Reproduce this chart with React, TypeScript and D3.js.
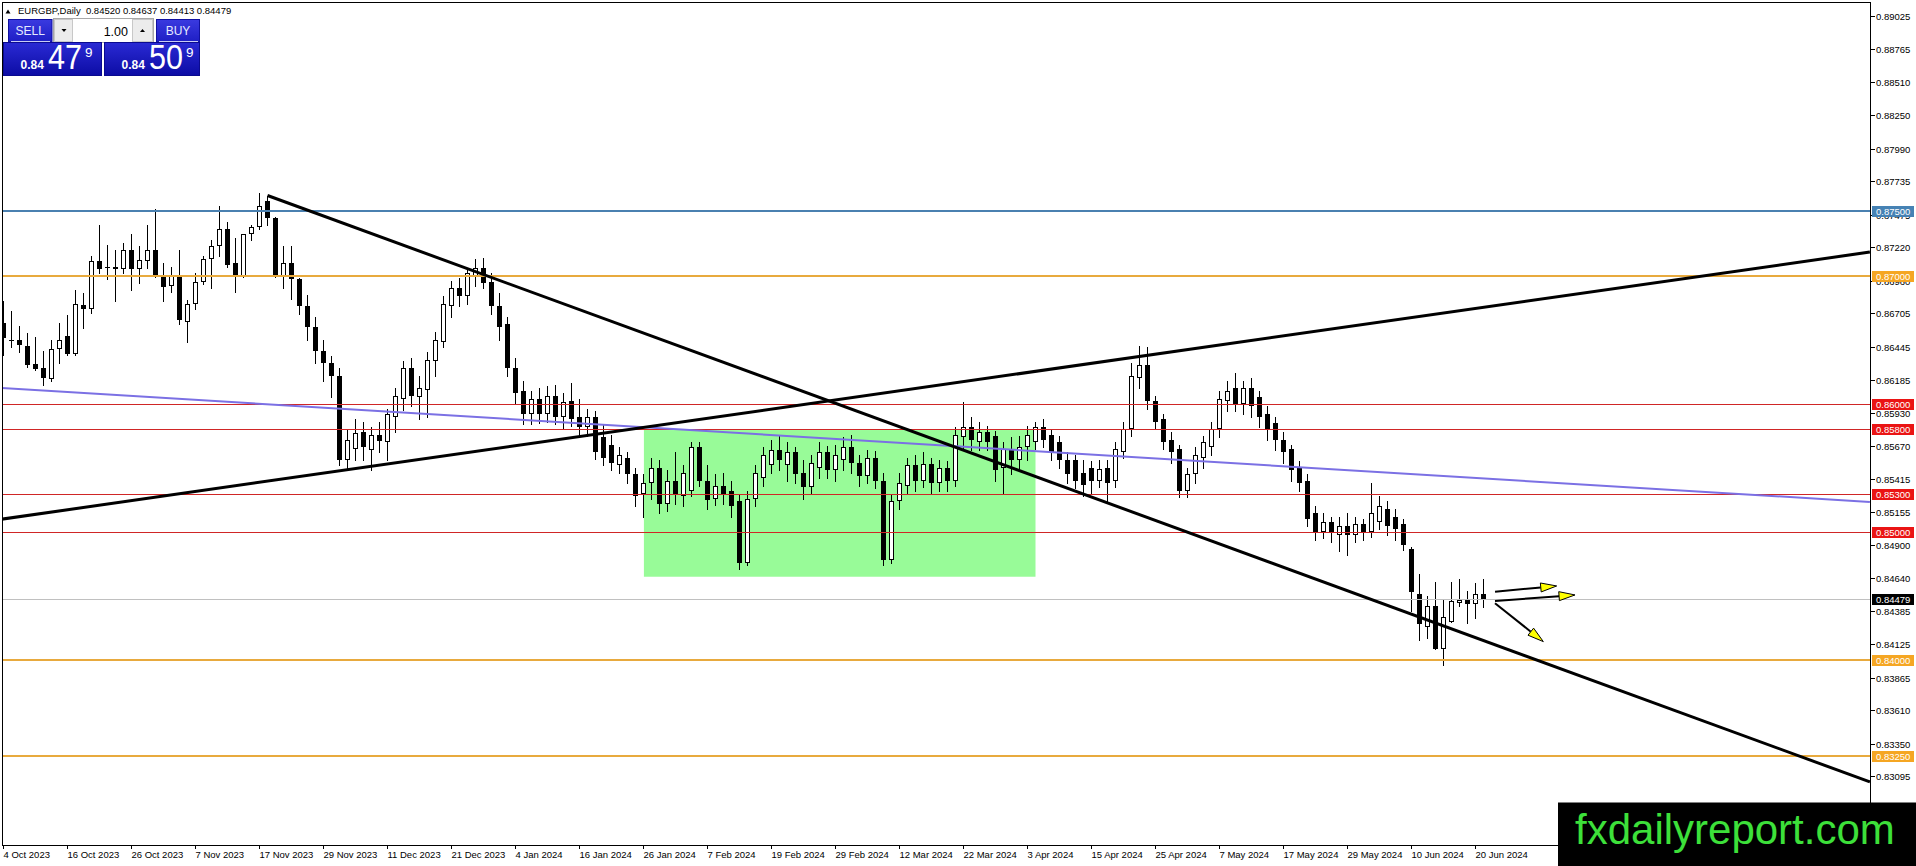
import React, { useRef, useEffect } from 'react';
import * as d3 from 'd3';

// open, high, low, close
type Bar = [number, number, number, number];

const oct2023: Bar[] = [
    [0.8663, 0.8680, 0.8638, 0.8651], [0.8650, 0.8672, 0.8644, 0.8649], [0.8650, 0.8661, 0.8640, 0.8646],
    [0.8645, 0.8655, 0.8629, 0.8630], [0.8631, 0.8652, 0.8626, 0.8627], [0.8628, 0.8641, 0.8615, 0.8620],
    [0.8619, 0.8650, 0.8618, 0.8643], [0.8643, 0.8663, 0.8632, 0.8650], [0.8653, 0.8669, 0.8638, 0.8639],
    [0.8639, 0.8689, 0.8638, 0.8678], [0.8677, 0.8686, 0.8659, 0.8674], [0.8674, 0.8715, 0.8671, 0.8711],
    [0.8711, 0.8739, 0.8702, 0.8705], [0.8707, 0.8724, 0.8697, 0.8706], [0.8707, 0.8720, 0.8680, 0.8705],
    [0.8705, 0.8725, 0.8702, 0.8720], [0.8720, 0.8732, 0.8689, 0.8705], [0.8705, 0.8723, 0.8694, 0.8712],
    [0.8711, 0.8739, 0.8706, 0.8720], [0.8720, 0.8752, 0.8699, 0.8700],
];
const nov2023: Bar[] = [
    [0.8700, 0.8710, 0.8680, 0.8691], [0.8692, 0.8707, 0.8687, 0.8700], [0.8700, 0.8720, 0.8662, 0.8665],
    [0.8664, 0.8681, 0.8648, 0.8678], [0.8678, 0.8702, 0.8674, 0.8695], [0.8695, 0.8715, 0.8693, 0.8713],
    [0.8713, 0.8728, 0.8690, 0.8723], [0.8723, 0.8754, 0.8715, 0.8736], [0.8736, 0.8742, 0.8707, 0.8708],
    [0.8710, 0.8729, 0.8687, 0.8700], [0.8699, 0.8732, 0.8699, 0.8732], [0.8732, 0.8739, 0.8728, 0.8738],
    [0.8738, 0.8764, 0.8736, 0.8754], [0.8758, 0.8762, 0.8739, 0.8745], [0.8745, 0.8746, 0.8699, 0.8699],
    [0.8699, 0.8723, 0.8690, 0.8710], [0.8710, 0.8723, 0.8682, 0.8697], [0.8697, 0.8698, 0.8670, 0.8676],
    [0.8676, 0.8685, 0.8650, 0.8660], [0.8660, 0.8668, 0.8632, 0.8641], [0.8641, 0.8650, 0.8618, 0.8632],
    [0.8632, 0.8637, 0.8605, 0.8622],
];
const dec2023: Bar[] = [
    [0.8622, 0.8628, 0.8552, 0.8556], [0.8556, 0.8580, 0.8550, 0.8572], [0.8565, 0.8588, 0.8556, 0.8577],
    [0.8578, 0.8586, 0.8556, 0.8566], [0.8564, 0.8582, 0.8548, 0.8576], [0.8576, 0.8586, 0.8562, 0.8571],
    [0.8570, 0.8596, 0.8556, 0.8592], [0.8590, 0.8612, 0.8578, 0.8606], [0.8604, 0.8633, 0.8595, 0.8628],
    [0.8628, 0.8636, 0.8598, 0.8606], [0.8605, 0.8622, 0.8588, 0.8612], [0.8611, 0.8640, 0.8590, 0.8634],
    [0.8633, 0.8656, 0.8622, 0.8650], [0.8648, 0.8684, 0.8644, 0.8678], [0.8676, 0.8696, 0.8668, 0.8690],
    [0.8690, 0.8698, 0.8676, 0.8684], [0.8684, 0.8706, 0.8678, 0.8702], [0.8700, 0.8713, 0.8692, 0.8706],
    [0.8706, 0.8714, 0.8690, 0.8694], [0.8695, 0.8702, 0.8670, 0.8676],
];
const jan2024: Bar[] = [
    [0.8676, 0.8686, 0.8650, 0.8660], [0.8662, 0.8668, 0.8622, 0.8628], [0.8628, 0.8636, 0.8600, 0.8608],
    [0.8610, 0.8618, 0.8584, 0.8592], [0.8592, 0.8610, 0.8584, 0.8604], [0.8604, 0.8612, 0.8585, 0.8592],
    [0.8592, 0.8614, 0.8586, 0.8606], [0.8606, 0.8615, 0.8584, 0.8590], [0.8590, 0.8608, 0.8580, 0.8601],
    [0.8602, 0.8616, 0.8583, 0.8588], [0.8590, 0.8604, 0.8576, 0.8582], [0.8582, 0.8596, 0.8575, 0.8590],
    [0.8590, 0.8594, 0.8557, 0.8562], [0.8574, 0.8584, 0.8552, 0.8558], [0.8568, 0.8576, 0.8548, 0.8554],
    [0.8552, 0.8566, 0.8546, 0.8560], [0.8558, 0.8562, 0.8538, 0.8545], [0.8545, 0.8550, 0.8520, 0.8528],
    [0.8530, 0.8545, 0.8512, 0.8538], [0.8538, 0.8558, 0.8526, 0.8550], [0.8550, 0.8556, 0.8515, 0.8522],
    [0.8522, 0.8548, 0.8516, 0.8540],
];
const feb2024: Bar[] = [
    [0.8540, 0.8562, 0.8522, 0.8530], [0.8528, 0.8552, 0.8520, 0.8546], [0.8532, 0.8570, 0.8528, 0.8566],
    [0.8566, 0.8570, 0.8536, 0.8540], [0.8540, 0.8552, 0.8518, 0.8525], [0.8526, 0.8545, 0.8521, 0.8536],
    [0.8536, 0.8546, 0.8522, 0.8530], [0.8532, 0.8540, 0.8512, 0.8520], [0.8524, 0.8530, 0.8471, 0.8476],
    [0.8476, 0.8532, 0.8474, 0.8526], [0.8526, 0.8552, 0.8520, 0.8546], [0.8542, 0.8566, 0.8536, 0.8560],
    [0.8552, 0.8572, 0.8546, 0.8564], [0.8564, 0.8576, 0.8548, 0.8556], [0.8552, 0.8570, 0.8540, 0.8562],
    [0.8562, 0.8566, 0.8538, 0.8545], [0.8546, 0.8556, 0.8526, 0.8535], [0.8535, 0.8560, 0.8530, 0.8554],
    [0.8550, 0.8570, 0.8542, 0.8562], [0.8562, 0.8567, 0.8542, 0.8548], [0.8548, 0.8568, 0.8540, 0.8560],
];
const mar2024: Bar[] = [
    [0.8556, 0.8574, 0.8548, 0.8566], [0.8566, 0.8576, 0.8546, 0.8554], [0.8554, 0.8560, 0.8536, 0.8544],
    [0.8544, 0.8564, 0.8538, 0.8558], [0.8558, 0.8563, 0.8534, 0.8540], [0.8540, 0.8546, 0.8474, 0.8478],
    [0.8478, 0.8530, 0.8476, 0.8524], [0.8524, 0.8546, 0.8518, 0.8538], [0.8536, 0.8558, 0.8530, 0.8552],
    [0.8552, 0.8560, 0.8532, 0.8540], [0.8540, 0.8562, 0.8535, 0.8553], [0.8553, 0.8558, 0.8530, 0.8538],
    [0.8538, 0.8556, 0.8532, 0.8550], [0.8550, 0.8555, 0.8532, 0.8540], [0.8540, 0.8582, 0.8536, 0.8576],
    [0.8574, 0.8601, 0.8565, 0.8582], [0.8582, 0.8590, 0.8564, 0.8572], [0.8570, 0.8586, 0.8564, 0.8578],
    [0.8578, 0.8583, 0.8564, 0.8570], [0.8575, 0.8579, 0.8540, 0.8548], [0.8550, 0.8570, 0.8530, 0.8565],
];
const apr2024: Bar[] = [
    [0.8565, 0.8574, 0.8545, 0.8556], [0.8556, 0.8575, 0.8550, 0.8566], [0.8566, 0.8583, 0.8556, 0.8576],
    [0.8570, 0.8586, 0.8565, 0.8582], [0.8582, 0.8588, 0.8566, 0.8572], [0.8576, 0.8580, 0.8556, 0.8562],
    [0.8570, 0.8575, 0.8550, 0.8556], [0.8556, 0.8562, 0.8538, 0.8545], [0.8556, 0.8560, 0.8534, 0.8540],
    [0.8546, 0.8556, 0.8528, 0.8537], [0.8550, 0.8555, 0.8530, 0.8540], [0.8540, 0.8556, 0.8535, 0.8549],
    [0.8550, 0.8556, 0.8524, 0.8538], [0.8540, 0.8570, 0.8535, 0.8565], [0.8562, 0.8586, 0.8558, 0.8580],
    [0.8580, 0.8632, 0.8575, 0.8622], [0.8620, 0.8645, 0.8612, 0.8630], [0.8630, 0.8644, 0.8596, 0.8602],
    [0.8602, 0.8606, 0.8580, 0.8586], [0.8588, 0.8592, 0.8565, 0.8570], [0.8572, 0.8578, 0.8554, 0.8562],
    [0.8565, 0.8568, 0.8527, 0.8532],
];
const may2024: Bar[] = [
    [0.8532, 0.8550, 0.8527, 0.8545], [0.8545, 0.8566, 0.8538, 0.8560], [0.8558, 0.8575, 0.8550, 0.8570],
    [0.8566, 0.8586, 0.8560, 0.8580], [0.8580, 0.8610, 0.8574, 0.8604], [0.8602, 0.8618, 0.8594, 0.8610],
    [0.8612, 0.8624, 0.8594, 0.8600], [0.8600, 0.8618, 0.8592, 0.8612], [0.8612, 0.8620, 0.8590, 0.8598],
    [0.8605, 0.8610, 0.8582, 0.8590], [0.8592, 0.8598, 0.8572, 0.8580], [0.8585, 0.8590, 0.8564, 0.8572],
    [0.8572, 0.8578, 0.8554, 0.8562], [0.8565, 0.8568, 0.8540, 0.8548], [0.8550, 0.8555, 0.8532, 0.8538],
    [0.8540, 0.8545, 0.8505, 0.8510], [0.8515, 0.8520, 0.8494, 0.8500], [0.8500, 0.8515, 0.8495, 0.8508],
    [0.8508, 0.8512, 0.8492, 0.8500], [0.8498, 0.8512, 0.8485, 0.8505], [0.8505, 0.8515, 0.8482, 0.8498],
    [0.8498, 0.8512, 0.8492, 0.8506], [0.8506, 0.8510, 0.8494, 0.8500],
];
const jun2024: Bar[] = [
    [0.8500, 0.8538, 0.8496, 0.8515], [0.8508, 0.8528, 0.8502, 0.8520], [0.8518, 0.8524, 0.8498, 0.8505],
    [0.8512, 0.8518, 0.8494, 0.8502], [0.8506, 0.8510, 0.8486, 0.8490], [0.8487, 0.8488, 0.8438, 0.8453],
    [0.8452, 0.8467, 0.8416, 0.8428], [0.8426, 0.8450, 0.8417, 0.8442], [0.8442, 0.8461, 0.8409, 0.8409],
    [0.8409, 0.8448, 0.8396, 0.8434], [0.8430, 0.8461, 0.8430, 0.8446], [0.8445, 0.8463, 0.8442, 0.8447],
    [0.8448, 0.8454, 0.8429, 0.8444], [0.8444, 0.8460, 0.8433, 0.8452], [0.84520, 0.84637, 0.84413, 0.84479],
];

const bars: Bar[] = [
    ...oct2023, ...nov2023, ...dec2023, ...jan2024, ...feb2024,
    ...mar2024, ...apr2024, ...may2024, ...jun2024,
];

const dateLabels = [
    '4 Oct 2023', '16 Oct 2023', '26 Oct 2023', '7 Nov 2023', '17 Nov 2023', '29 Nov 2023',
    '11 Dec 2023', '21 Dec 2023', '4 Jan 2024', '16 Jan 2024', '26 Jan 2024', '7 Feb 2024',
    '19 Feb 2024', '29 Feb 2024', '12 Mar 2024', '22 Mar 2024', '3 Apr 2024', '15 Apr 2024',
    '25 Apr 2024', '7 May 2024', '17 May 2024', '29 May 2024', '10 Jun 2024', '20 Jun 2024',
];
const barsPerLabel = 8;

const priceTicks = [
    0.89025, 0.88765, 0.8851, 0.8825, 0.8799, 0.87735, 0.87475, 0.8722, 0.8696, 0.86705, 0.86445, 0.86185,
    0.8593, 0.8567, 0.85415, 0.85155, 0.849, 0.8464, 0.84385, 0.84125, 0.83865, 0.8361, 0.8335, 0.83095,
];

const levelPrices = [0.875, 0.87, 0.86, 0.858, 0.853, 0.85, 0.84, 0.8325];
const levelKinds = ['blue', 'orange', 'red', 'red', 'red', 'red', 'orange', 'orange'];
const bidPrice = 0.84479;

const symbol = 'EURGBP,Daily';
const lastOhlc = [0.8452, 0.84637, 0.84413, 0.84479];

// drawn objects: [bar index, price]
const downTrend: [number, number][] = [[33, 0.87624], [233.3, 0.83051]];
const upTrend: [number, number][] = [[-0.44, 0.85098], [233.3, 0.87183]];
const midLine: [number, number][] = [[-0.44, 0.86123], [233.3, 0.85234]];
const boxBars = [80.05, 129];
const boxPrices = [0.85795, 0.84651];
const arrowLines: [number, number, number, number][] = [
    [186.44, 0.84534, 194.15, 0.84579],
    [186.44, 0.84462, 196.44, 0.84509],
    [186.44, 0.84444, 192.48, 0.84145],
];

const sellQuote = ['0.84', '47', '9'];
const buyQuote = ['0.84', '50', '9'];
const lotSize = '1.00';
const watermark = 'fxdailyreport.com';

const levelStyle: Record<string, { stroke: string; width: number; box: string }> = {
    blue: { stroke: '#4a80b0', width: 2, box: '#4682b4' },
    orange: { stroke: '#e8aa3e', width: 2, box: '#f5a623' },
    red: { stroke: '#d02626', width: 1, box: '#ea1414' },
};

const FONT = '"Liberation Sans", Arial, sans-serif';

const MtChart: React.FC = () => {
    const svgRef = useRef<SVGSVGElement | null>(null);
    const width = 1916;
    const height = 866;
    const plot = { left: 2.5, top: 2.5, right: 1870.5, bottom: 845 };

    useEffect(() => {
        if (!svgRef.current) return;
        const svg = d3.select(svgRef.current);
        svg.selectAll('*').remove();

        const x = d3.scaleLinear().domain([0, bars.length - 1]).range([3.5, 3.5 + 8 * (bars.length - 1)]);
        const y = d3.scaleLinear().domain([0.82559, 0.89129]).range([plot.bottom, plot.top]);

        const defs = svg.append('defs');
        defs.append('clipPath').attr('id', 'plotClip')
            .append('rect')
            .attr('x', plot.left).attr('y', plot.top)
            .attr('width', plot.right - plot.left).attr('height', plot.bottom - plot.top);
        const btnGrad = defs.append('linearGradient').attr('id', 'btnGrad').attr('x1', 0).attr('y1', 0).attr('x2', 0).attr('y2', 1);
        btnGrad.append('stop').attr('offset', '0%').attr('stop-color', '#3a3ae0');
        btnGrad.append('stop').attr('offset', '100%').attr('stop-color', '#1e1ec4');
        const quoteGrad = defs.append('linearGradient').attr('id', 'quoteGrad').attr('x1', 0).attr('y1', 0).attr('x2', 0).attr('y2', 1);
        quoteGrad.append('stop').attr('offset', '0%').attr('stop-color', '#2a2ad4');
        quoteGrad.append('stop').attr('offset', '100%').attr('stop-color', '#0c0ca4');

        svg.append('rect').attr('width', width).attr('height', height).attr('fill', '#ffffff');

        const chart = svg.append('g').attr('clip-path', 'url(#plotClip)');

        // range box in the background
        chart.append('rect')
            .attr('x', x(boxBars[0])).attr('y', y(boxPrices[0]))
            .attr('width', x(boxBars[1]) - x(boxBars[0]))
            .attr('height', y(boxPrices[1]) - y(boxPrices[0]))
            .attr('fill', '#98fb98');

        // candles
        const candles = chart.append('g').attr('shape-rendering', 'crispEdges');
        bars.forEach(([o, h, l, c], i) => {
            const cx = x(i);
            candles.append('line')
                .attr('x1', cx).attr('x2', cx)
                .attr('y1', Math.round(y(h))).attr('y2', Math.round(y(l)) + 1)
                .attr('stroke', '#000');
            const top = Math.round(y(Math.max(o, c)));
            const bot = Math.round(y(Math.min(o, c)));
            const hgt = Math.max(1, bot - top);
            if (c < o) {
                candles.append('rect')
                    .attr('x', cx - 2.5).attr('y', top).attr('width', 5).attr('height', hgt)
                    .attr('fill', '#000');
            } else {
                candles.append('rect')
                    .attr('x', cx - 2).attr('y', top + 0.5).attr('width', 4).attr('height', Math.max(0, hgt - 1))
                    .attr('fill', '#fff').attr('stroke', '#000');
            }
        });

        // horizontal levels
        levelPrices.forEach((p, i) => {
            const st = levelStyle[levelKinds[i]];
            const yy = Math.round(y(p)) + (st.width % 2 ? 0.5 : 0);
            chart.append('line')
                .attr('x1', plot.left).attr('x2', plot.right).attr('y1', yy).attr('y2', yy)
                .attr('stroke', st.stroke).attr('stroke-width', st.width)
                .attr('shape-rendering', 'crispEdges');
        });
        const bidY = Math.round(y(bidPrice)) + 0.5;
        chart.append('line')
            .attr('x1', plot.left).attr('x2', plot.right).attr('y1', bidY).attr('y2', bidY)
            .attr('stroke', '#c0c0c0').attr('shape-rendering', 'crispEdges');

        const line = d3.line<[number, number]>()
            .x(d => x(d[0]))
            .y(d => y(d[1]));

        chart.append('path').datum(midLine)
            .attr('fill', 'none').attr('stroke', '#7b70e4').attr('stroke-width', 2).attr('d', line);
        [downTrend, upTrend].forEach(t => {
            chart.append('path').datum(t)
                .attr('fill', 'none').attr('stroke', '#000').attr('stroke-width', 3).attr('d', line);
        });

        // arrows
        arrowLines.forEach(([i0, p0, i1, p1]) => {
            const x0 = x(i0), y0 = y(p0), x1 = x(i1), y1 = y(p1);
            const ang = Math.atan2(y1 - y0, x1 - x0);
            const len = 16, half = 4.5;
            const bx = x1 - len * Math.cos(ang);
            const by = y1 - len * Math.sin(ang);
            chart.append('line')
                .attr('x1', x0).attr('y1', y0).attr('x2', bx).attr('y2', by)
                .attr('stroke', '#000').attr('stroke-width', 2);
            const pts: [number, number][] = [
                [x1, y1],
                [bx + half * Math.sin(ang), by - half * Math.cos(ang)],
                [bx - half * Math.sin(ang), by + half * Math.cos(ang)],
            ];
            chart.append('polygon')
                .attr('points', pts.map(p => p.join(',')).join(' '))
                .attr('fill', '#ffff00').attr('stroke', '#000').attr('stroke-width', 1);
        });

        // frame
        svg.append('rect')
            .attr('x', plot.left).attr('y', plot.top)
            .attr('width', plot.right - plot.left).attr('height', plot.bottom - plot.top)
            .attr('fill', 'none').attr('stroke', '#000').attr('shape-rendering', 'crispEdges');

        // price axis
        const yAxis = svg.append('g').attr('font-family', FONT).attr('font-size', 9.5);
        priceTicks.forEach(p => {
            const yy = Math.round(y(p)) + 0.5;
            yAxis.append('line')
                .attr('x1', plot.right).attr('x2', plot.right + 4).attr('y1', yy).attr('y2', yy)
                .attr('stroke', '#000').attr('shape-rendering', 'crispEdges');
            yAxis.append('text')
                .attr('x', plot.right + 5.5).attr('y', yy)
                .attr('dominant-baseline', 'central')
                .attr('fill', '#000')
                .text(d3.format('.5f')(p));
        });
        const priceBox = (p: number, fill: string) => {
            const yy = Math.round(y(p)) + 0.5;
            yAxis.append('rect')
                .attr('x', plot.right + 1).attr('y', yy - 5.5).attr('width', 42).attr('height', 11)
                .attr('fill', fill).attr('shape-rendering', 'crispEdges');
            yAxis.append('text')
                .attr('x', plot.right + 5.5).attr('y', yy)
                .attr('dominant-baseline', 'central')
                .attr('fill', '#fff')
                .text(d3.format('.5f')(p));
        };
        levelPrices.forEach((p, i) => priceBox(p, levelStyle[levelKinds[i]].box));
        priceBox(bidPrice, '#000');

        // time axis
        const xAxis = svg.append('g').attr('font-family', FONT).attr('font-size', 9.5);
        dateLabels.forEach((lab, k) => {
            const xx = x(k * barsPerLabel);
            xAxis.append('line')
                .attr('x1', xx).attr('x2', xx).attr('y1', plot.bottom).attr('y2', plot.bottom + 4)
                .attr('stroke', '#000').attr('shape-rendering', 'crispEdges');
            xAxis.append('text')
                .attr('x', xx).attr('y', 858)
                .attr('fill', '#000')
                .text(lab);
        });

        // header
        const head = svg.append('g').attr('font-family', FONT).attr('font-size', 9.5);
        head.append('polygon').attr('points', '5.5,13.5 10.5,13.5 8,9.5').attr('fill', '#000');
        head.append('text')
            .attr('x', 18).attr('y', 14)
            .attr('fill', '#000')
            .style('white-space', 'pre')
            .text(`${symbol}  ${lastOhlc.map(v => d3.format('.5f')(v)).join(' ')}`);

        // one click trading panel
        const panel = svg.append('g').attr('font-family', FONT);
        const button = (bx: number, bw: number, label: string) => {
            panel.append('rect').attr('x', bx).attr('y', 19.5).attr('width', bw).attr('height', 22.5)
                .attr('fill', 'url(#btnGrad)').attr('stroke', '#1010a0');
            panel.append('line').attr('x1', bx + 2).attr('x2', bx + bw - 2).attr('y1', 41.5).attr('y2', 41.5)
                .attr('stroke', '#c8ccf4').attr('shape-rendering', 'crispEdges');
            panel.append('text').attr('x', bx + bw / 2).attr('y', 35).attr('text-anchor', 'middle')
                .attr('font-size', 12).attr('fill', '#e6eaff').text(label);
        };
        button(8.5, 43.5, 'SELL');
        button(156.5, 43, 'BUY');

        panel.append('rect').attr('x', 53.5).attr('y', 18.5).attr('width', 100).attr('height', 24)
            .attr('fill', '#fff').attr('stroke', '#a8a8a8').attr('shape-rendering', 'crispEdges');
        panel.append('rect').attr('x', 54.5).attr('y', 19.5).attr('width', 18).attr('height', 22)
            .attr('fill', '#ececec').attr('stroke', '#c8c8c8').attr('shape-rendering', 'crispEdges');
        panel.append('rect').attr('x', 132.5).attr('y', 19.5).attr('width', 20).attr('height', 22)
            .attr('fill', '#ececec').attr('stroke', '#c8c8c8').attr('shape-rendering', 'crispEdges');
        panel.append('polygon').attr('points', '61.5,29 66.5,29 64,32').attr('fill', '#000');
        panel.append('polygon').attr('points', '140,32 145,32 142.5,29').attr('fill', '#000');
        panel.append('text').attr('x', 128).attr('y', 35.5).attr('text-anchor', 'end')
            .attr('font-size', 12.5).attr('fill', '#000').text(lotSize);

        const quote = (bx: number, bw: number, q: string[]) => {
            panel.append('rect').attr('x', bx).attr('y', 42.5).attr('width', bw).attr('height', 33)
                .attr('fill', 'url(#quoteGrad)').attr('stroke', '#0a0a90');
            panel.append('text').attr('x', bx + 17).attr('y', 68.5)
                .attr('font-size', 12).attr('font-weight', 'bold').attr('fill', '#fff').text(q[0]);
            panel.append('text').attr('x', bx + 44.5).attr('y', 68.5)
                .attr('font-size', 35).attr('textLength', 34).attr('lengthAdjust', 'spacingAndGlyphs')
                .attr('fill', '#fff').text(q[1]);
            panel.append('text').attr('x', bx + 81.5).attr('y', 56.5)
                .attr('font-size', 13.5).attr('fill', '#fff').text(q[2]);
        };
        quote(3.5, 98, sellQuote);
        quote(104.5, 95, buyQuote);

        // watermark
        svg.append('rect').attr('x', 1558).attr('y', 802.5).attr('width', width - 1558).attr('height', height - 802.5)
            .attr('fill', '#000');
        svg.append('text').attr('x', 1575).attr('y', 844)
            .attr('font-family', FONT).attr('font-size', 42).attr('fill', '#3de03a')
            .text(watermark);
    }, []);

    return (
        <svg
            ref={svgRef}
            width={width}
            height={height}
            style={{ position: 'fixed', left: 0, top: 0, display: 'block' }}
        ></svg>
    );
};

export default function App() {
    return <MtChart />;
}
